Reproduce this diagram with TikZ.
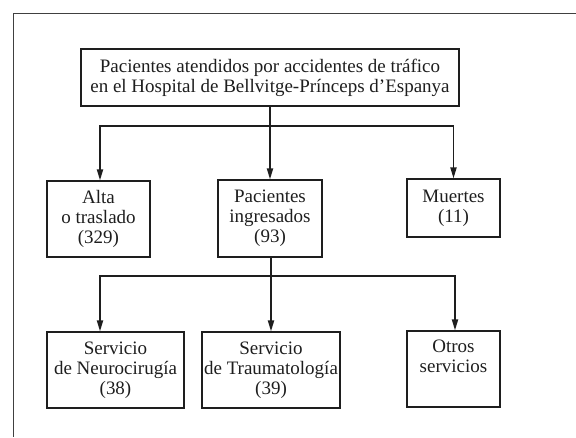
\documentclass[tikz,border=0pt]{standalone}
\usepackage{fontspec}
\setmainfont{Liberation Serif}
\usetikzlibrary{arrows.meta}
\definecolor{ink}{HTML}{1E1E1E}
\tikzset{
  box/.style={draw=ink, line width=1.1pt, inner sep=0pt, align=center, text=ink,
    font=\fontsize{19}{20}\selectfont},
  conn/.style={draw=ink, line width=1.8pt},
  arr/.style={conn, -{Triangle[length=11pt,width=6pt]}},
}
\begin{document}
\begin{tikzpicture}[x=1pt,y=-1pt]
\useasboundingbox (0,0) rectangle (576,437);
% outer frame (cut)
\coordinate (fr1) at (576,13);
\coordinate (fr2) at (13,13);
\coordinate (fr3) at (13,437);
\draw[ink!85, line width=0.9pt] (fr1) -- (fr2) -- (fr3);
% nodes
\node[box, minimum width=378pt, minimum height=57pt] (top) at (270,77.5)
  {Pacientes atendidos por accidentes de tráfico\\en el Hospital de Bellvitge-Prínceps d'Espanya};
\node[box, minimum width=103pt, minimum height=76pt] (alta) at (98.5,219)
  {Alta\\o traslado\\(329)};
\node[box, minimum width=104pt, minimum height=77pt] (pac) at (270,218.5)
  {Pacientes\\ingresados\\(93)};
\node[box, minimum width=93pt, minimum height=58pt] (muer) at (453.5,208)
  {Muertes\\(11)};
\node[box, minimum width=137pt, minimum height=76pt] (neuro) at (115.5,370)
  {Servicio\\de Neurocirugía\\(38)};
\node[box, minimum width=138pt, minimum height=76pt] (trau) at (271,370)
  {Servicio\\de Traumatología\\(39)};
\node[box, minimum width=93pt, minimum height=76pt] (otros) at (453.5,369)
  {Otros\\servicios\\\strut};
% connectors level 1
\coordinate (j1) at (270,126);
\draw[conn] (top.south) -- (j1);
\draw[arr] (j1) -| ([xshift=1.5pt]alta.north);
\draw[arr] (j1) -- (pac.north);
\draw[arr] (j1) -| (muer.north);
% connectors level 2
\coordinate (j2) at (271,276);
\draw[conn] ([xshift=1pt]pac.south) -- (j2);
\draw[arr] (j2) -| ([xshift=-15.5pt]neuro.north);
\draw[arr] (j2) -- (trau.north);
\draw[arr] (j2) -| ([xshift=1.5pt]otros.north);
\end{tikzpicture}
\end{document}
